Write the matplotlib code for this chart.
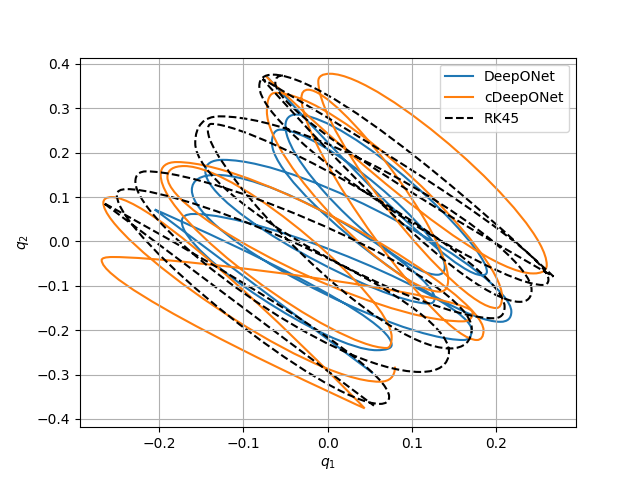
import numpy as np
import matplotlib
matplotlib.use("Agg")
import matplotlib.pyplot as plt
from matplotlib.path import Path
from matplotlib.patches import PathPatch
from matplotlib.lines import Line2D

# Each trajectory is stored as its turning loops, in order.
# Loops alternate: upper-left (p1 = top point, p2 = leftmost point)
# and lower-right (p1 = bottom point, p2 = rightmost point).
# a sharp tip has p1 == p2

rk45_p1 = [(-0.053, 0.374), (0.268, -0.079), (-0.065, 0.376), (0.255, -0.098),
           (-0.077, 0.366), (0.228, -0.136), (-0.128, 0.282), (0.197, -0.173),
           (-0.138, 0.265), (0.145, -0.241), (-0.215, 0.158), (0.110, -0.294),
           (-0.238, 0.118), (0.062, -0.366), (-0.266, 0.087), (0.055, -0.370)]
rk45_p2 = [(-0.062, 0.358), (0.268, -0.079), (-0.081, 0.350), (0.262, -0.086),
           (-0.077, 0.366), (0.242, -0.109), (-0.157, 0.222), (0.210, -0.147),
           (-0.142, 0.250), (0.171, -0.196), (-0.228, 0.135), (0.144, -0.248),
           (-0.250, 0.105), (0.073, -0.350), (-0.266, 0.087), (0.055, -0.370)]

deep_p1 = [(-0.073, 0.374), (0.183, -0.076), (-0.037, 0.286), (0.130, -0.075),
           (-0.056, 0.252), (0.205, -0.181), (-0.124, 0.184), (0.120, -0.140),
           (-0.132, 0.150), (0.161, -0.222), (-0.159, 0.062), (0.058, -0.245),
           (-0.205, 0.072), (0.054, -0.297)]
deep_p2 = [(-0.073, 0.374), (0.189, -0.068), (-0.050, 0.260), (0.139, -0.057),
           (-0.066, 0.222), (0.218, -0.158), (-0.145, 0.158), (0.127, -0.128),
           (-0.161, 0.116), (0.171, -0.200), (-0.173, 0.045), (0.076, -0.233),
           (-0.205, 0.072), (0.054, -0.297)]

cdeep_p1 = [(-0.074, 0.374), (0.244, -0.072), (0.003, 0.378), (0.200, -0.150),
            (-0.062, 0.335), (0.133, -0.113), (-0.023, 0.342), (0.177, -0.222),
            (-0.179, 0.179), (0.070, -0.240), (-0.170, 0.170), (0.160, -0.180),
            (-0.255, -0.035), (0.044, -0.376), (-0.256, 0.100), (0.062, -0.316)]
cdeep_p2 = [(-0.074, 0.374), (0.260, -0.053), (-0.011, 0.361), (0.207, -0.124),
            (-0.072, 0.293), (0.143, -0.087), (-0.031, 0.323), (0.185, -0.200),
            (-0.198, 0.150), (0.076, -0.215), (-0.190, 0.145), (0.172, -0.160),
            (-0.268, -0.042), (0.044, -0.376), (-0.266, 0.087), (0.080, -0.282)]


def turn_phi(p1, p2, i):
    # opening of a loop, relative to the stroke length to the next loop
    j = i + 1 if i + 1 < len(p1) else i - 1
    xs = abs(p2[j][0] - p2[i][0])
    ys = abs(p1[j][1] - p1[i][1])
    dx = abs(p1[i][0] - p2[i][0])
    dy = abs(p1[i][1] - p2[i][1])
    c = 1 - (dx / xs + dy / ys)
    return np.arccos(np.clip(c, -0.5, 1.0))


def r_turn(phi):
    phi = max(phi, 1e-3)
    return 4.0 / 3.0 * np.tan(phi / 4) / np.tan(phi / 2)


def r_long(phi):
    return 4.0 / 3.0 * np.tan((np.pi - phi) / 4) * np.tan(phi / 2)


def corner(a, b, a_horiz):
    if a_horiz:
        return np.array([b[0], a[1]])
    return np.array([a[0], b[1]])


def trajectory_path(p1, p2):
    p1 = [np.array(p) for p in p1]
    p2 = [np.array(p) for p in p2]
    n = len(p1)
    phis = [turn_phi(p1, p2, i) for i in range(n)]
    verts = [p1[0]]
    codes = [Path.MOVETO]
    for i in range(n):
        # inside the loop: y-extreme -> x-extreme
        a, b = p1[i], p2[i]
        C = corner(a, b, True)
        r = r_turn(phis[i])
        verts += [a + r * (C - a), b + r * (C - b), b]
        codes += [Path.CURVE4] * 3
        if i + 1 < n:
            # long stroke: x-extreme -> next y-extreme
            a, b = p2[i], p1[i + 1]
            C = corner(a, b, False)
            ra, rb = r_long(phis[i]), r_long(phis[i + 1])
            verts += [a + ra * (C - a), b + rb * (C - b), b]
            codes += [Path.CURVE4] * 3
    return Path(np.array(verts), codes)


fig, ax = plt.subplots(figsize=(6.4, 4.8), dpi=100)

ax.add_patch(PathPatch(trajectory_path(deep_p1, deep_p2), fill=False,
                       edgecolor='C0', linewidth=1.5))
ax.add_patch(PathPatch(trajectory_path(cdeep_p1, cdeep_p2), fill=False,
                       edgecolor='C1', linewidth=1.5))
ax.add_patch(PathPatch(trajectory_path(rk45_p1, rk45_p2), fill=False,
                       edgecolor='k', linewidth=1.5, linestyle='--'))

handles = [Line2D([], [], color='C0', lw=1.5, label='DeepONet'),
           Line2D([], [], color='C1', lw=1.5, label='cDeepONet'),
           Line2D([], [], color='k', lw=1.5, ls='--', label='RK45')]
ax.legend(handles=handles, loc='upper right')

ax.set_xlim(-0.2937, 0.2947)
ax.set_ylim(-0.4185, 0.4144)
ax.set_xlabel('$q_1$')
ax.set_ylabel('$q_2$')
ax.grid(True)

plt.savefig('out.png')
